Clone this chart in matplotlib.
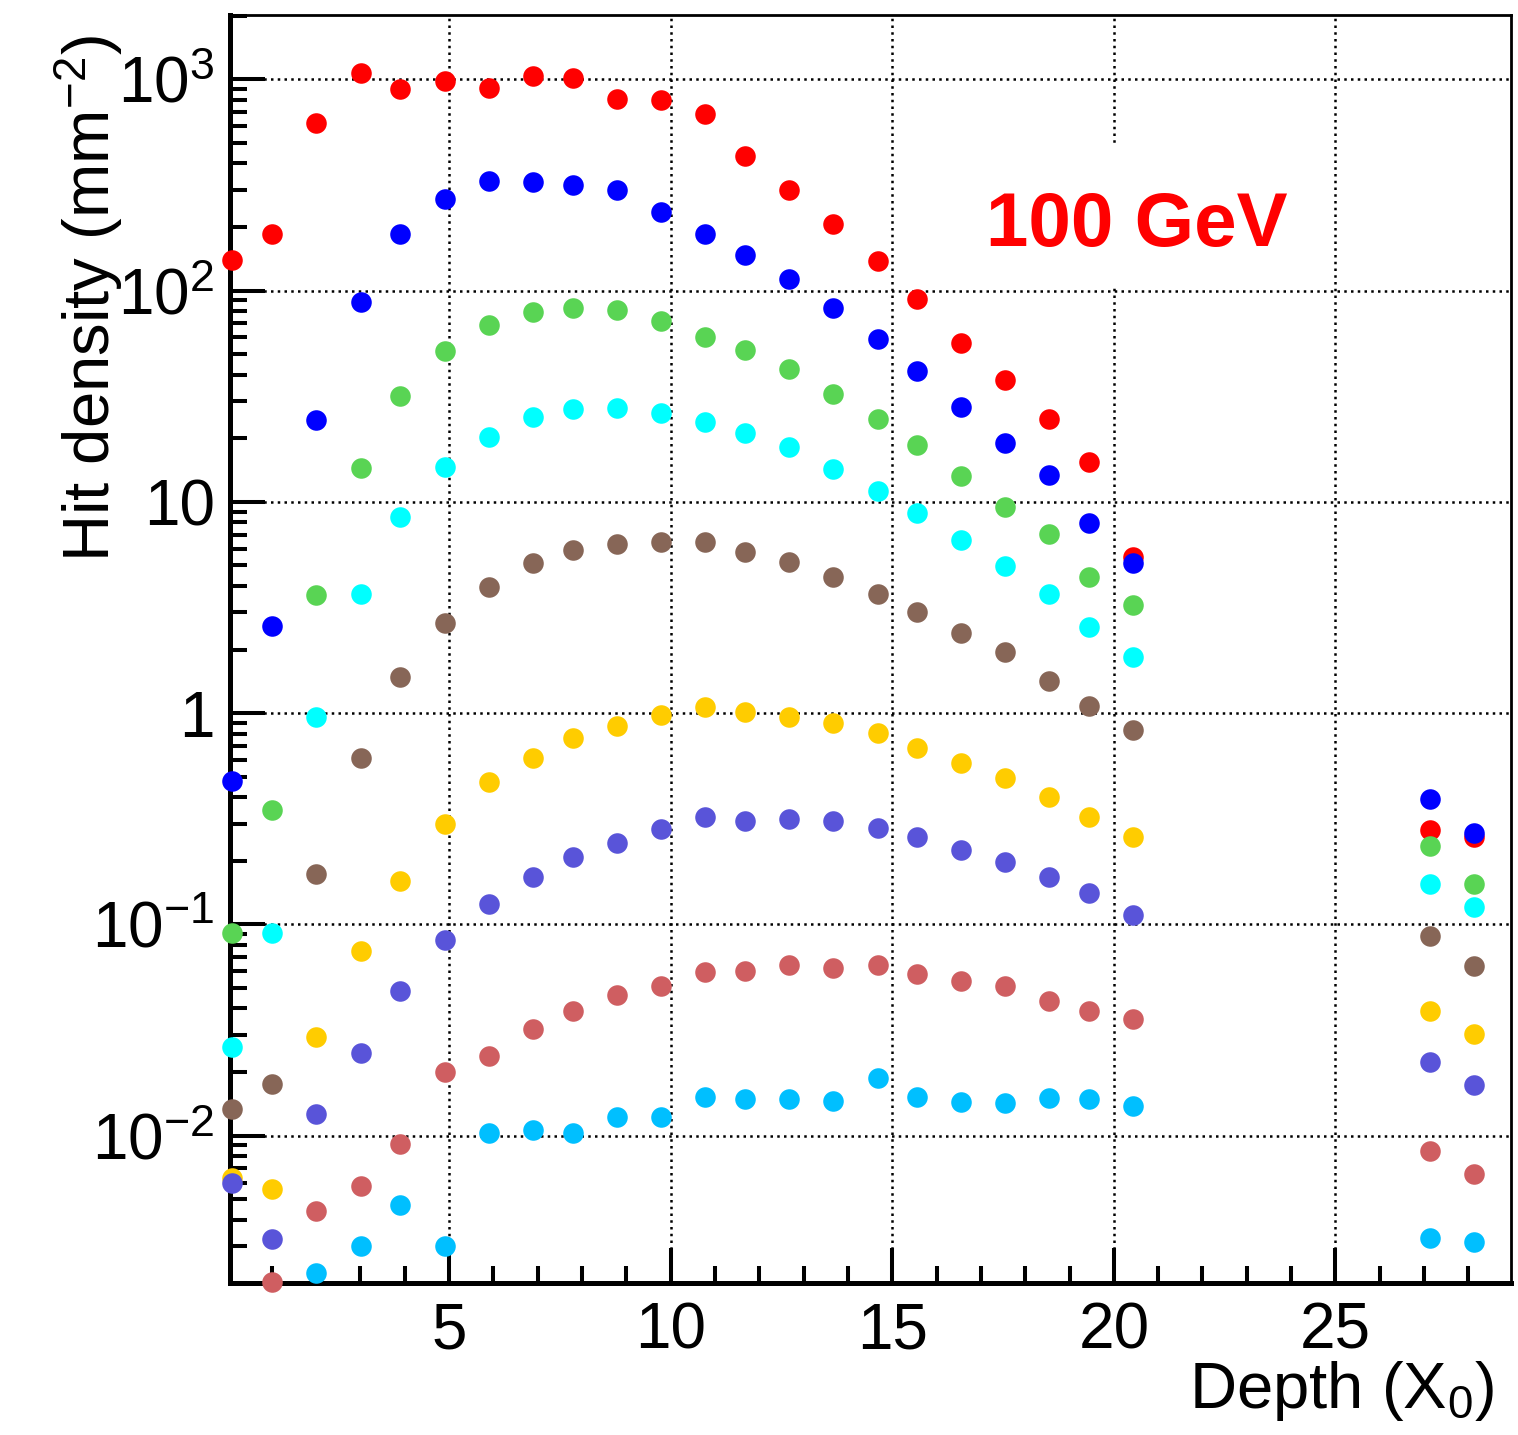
"""Hit density vs shower depth, 100 GeV"""

import matplotlib
matplotlib.use("Agg")
import matplotlib.pyplot as plt
from matplotlib.patches import Rectangle
from matplotlib.ticker import FixedLocator, FixedFormatter, LogLocator, MultipleLocator, NullFormatter
import numpy as np

plt.rcParams['font.family'] = ['Liberation Sans', 'DejaVu Sans']
plt.rcParams['mathtext.fontset'] = 'custom'
plt.rcParams['mathtext.rm'] = 'Liberation Sans'
plt.rcParams['mathtext.it'] = 'Liberation Sans:italic'
plt.rcParams['mathtext.bf'] = 'Liberation Sans:bold'

nan = np.nan

# layer depth in radiation lengths
depth = [0.10, 1.01, 2.00, 3.01, 3.89, 4.91, 5.90, 6.90, 7.80, 8.79, 9.78, 10.77,
         11.68, 12.67, 13.66, 14.68, 15.56, 16.55, 17.54, 18.53, 19.43, 20.43, 27.13, 28.12]

# hit density per layer (mm^-2), one list per series
hd_1 = [140, 186, 623, 1075, 900, 982, 907, 1037, 1011, 804, 796, 687,
        434, 300, 206, 138, 90.9, 56.7, 37.6, 24.7, 15.4, 5.49, 0.280, 0.259]
hd_2 = [0.478, 2.58, 24.4, 88.6, 186, 270, 331, 328, 316, 300, 236, 186,
        148, 113, 82.5, 58.8, 41.6, 28.0, 18.9, 13.4, 7.95, 5.16, 0.394, 0.270]
hd_3 = [0.0909, 0.346, 3.64, 14.5, 31.8, 51.8, 68.5, 78.9, 82.8, 80.7, 71.6, 60.5,
        52.3, 42.4, 32.3, 24.7, 18.5, 13.3, 9.46, 7.03, 4.41, 3.25, 0.235, 0.155]
hd_4 = [0.0262, 0.0909, 0.956, 3.67, 8.51, 14.6, 20.2, 25.1, 27.5, 27.7, 26.4, 24.0,
        21.2, 18.1, 14.3, 11.3, 8.83, 6.60, 4.97, 3.67, 2.55, 1.85, 0.156, 0.121]
hd_5 = [0.0134, 0.0175, 0.173, 0.616, 1.48, 2.67, 3.96, 5.12, 5.90, 6.30, 6.46, 6.46,
        5.81, 5.18, 4.43, 3.68, 3.00, 2.39, 1.94, 1.42, 1.085, 0.835, 0.0882, 0.0635]
hd_6 = [0.00633, 0.00560, 0.0294, 0.0752, 0.161, 0.298, 0.472, 0.616, 0.763, 0.873, 0.984, 1.073,
        1.016, 0.956, 0.896, 0.803, 0.682, 0.579, 0.492, 0.400, 0.324, 0.258, 0.0391, 0.0304]
hd_7 = [0.00596, 0.00324, 0.0127, 0.0246, 0.0486, 0.0845, 0.125, 0.167, 0.209, 0.242, 0.283, 0.322,
        0.308, 0.315, 0.309, 0.285, 0.259, 0.224, 0.197, 0.168, 0.140, 0.1105, 0.0222, 0.0173]
hd_8 = [nan, 0.00203, 0.00441, 0.00580, 0.00908, 0.0201, 0.0238, 0.0320, 0.0388, 0.0464, 0.0513, 0.0598,
        0.0600, 0.0641, 0.0620, 0.0641, 0.0581, 0.0540, 0.0512, 0.0435, 0.0390, 0.0356, 0.00850, 0.00659]
hd_9 = [nan, nan, 0.00224, 0.00299, 0.00470, 0.00299, 0.0103, 0.01065, 0.0103, 0.0123, 0.0123, 0.0153,
        0.0149, 0.0149, 0.0146, 0.0188, 0.0153, 0.0145, 0.0143, 0.0151, 0.0149, 0.0138, 0.00326, 0.00314]

series = [hd_1, hd_2, hd_3, hd_4, hd_5, hd_6, hd_7, hd_8, hd_9]
colors = ['#FF0000', '#0000FF', '#59D454', '#00FFFF', '#876657',
          '#FFCC00', '#5954D9', '#CF5E61', '#00BFFF']

x_ticks = [5, 10, 15, 20, 25]
x_tick_labels = ['5', '10', '15', '20', '25']
y_ticks = [1e-2, 1e-1, 1, 10, 1e2, 1e3]
y_tick_labels = [r'$\mathregular{10^{-2}}$', r'$\mathregular{10^{-1}}$', '1', '10',
                 r'$\mathregular{10^{2}}$', r'$\mathregular{10^{3}}$']

W, H = 1518, 1435
fig = plt.figure(figsize=(W / 100, H / 100), dpi=100)
ax = fig.add_axes([230 / W, 1 - 1283.3 / H, (1511 - 230) / W, (1283.3 - 15.3) / H])

for vals, c in zip(series, colors):
    ax.plot(depth, vals, 'o', color=c, ms=14.8, mew=0, clip_on=False, zorder=3)

ax.set_yscale('log')

# white backing behind the energy label
ax.add_patch(Rectangle((960 / W, 1 - 288 / H), (1314 - 960) / W, (288 - 143) / H,
                       transform=fig.transFigure, facecolor='white', edgecolor='none', zorder=2))

ax.set_xlim(0.06, 28.96)
ax.set_ylim(0.002, 2009)

ax.xaxis.set_major_locator(FixedLocator(x_ticks))
ax.xaxis.set_major_formatter(FixedFormatter(x_tick_labels))
ax.xaxis.set_minor_locator(MultipleLocator(1))
ax.yaxis.set_major_locator(FixedLocator(y_ticks))
ax.yaxis.set_major_formatter(FixedFormatter(y_tick_labels))
ax.yaxis.set_minor_locator(LogLocator(base=10, subs=range(2, 10), numticks=20))
ax.yaxis.set_minor_formatter(NullFormatter())

ax.grid(True, which='major', color='black', linestyle=(0, (1, 1.7)), linewidth=1.8)

ax.tick_params(which='both', direction='in', top=False, right=False, width=2.9)
ax.tick_params(which='major', length=25, labelsize=46)
ax.tick_params(which='minor', length=12)
ax.tick_params(axis='x', which='major', pad=13)
ax.tick_params(axis='y', which='major', pad=11)

for side in ['left', 'bottom']:
    ax.spines[side].set_linewidth(3.6)
for side in ['top', 'right']:
    ax.spines[side].set_linewidth(2.0)

fig.text(1137 / W, 1 - 246 / H, '100 GeV', color='#FF0000', fontsize=55,
         fontweight='bold', ha='center', va='baseline')
fig.text(110 / W, 1 - 35 / H, r'Hit density (mm$^{\mathregular{-2}}$)', fontsize=47,
         rotation=90, rotation_mode='anchor', ha='right', va='baseline')
fig.text(1494 / W, 1 - 1408 / H, r'Depth (X$_{\mathregular{0}}$)', fontsize=47,
         ha='right', va='baseline')

fig.savefig('out.png', dpi=100)
plt.close(fig)
